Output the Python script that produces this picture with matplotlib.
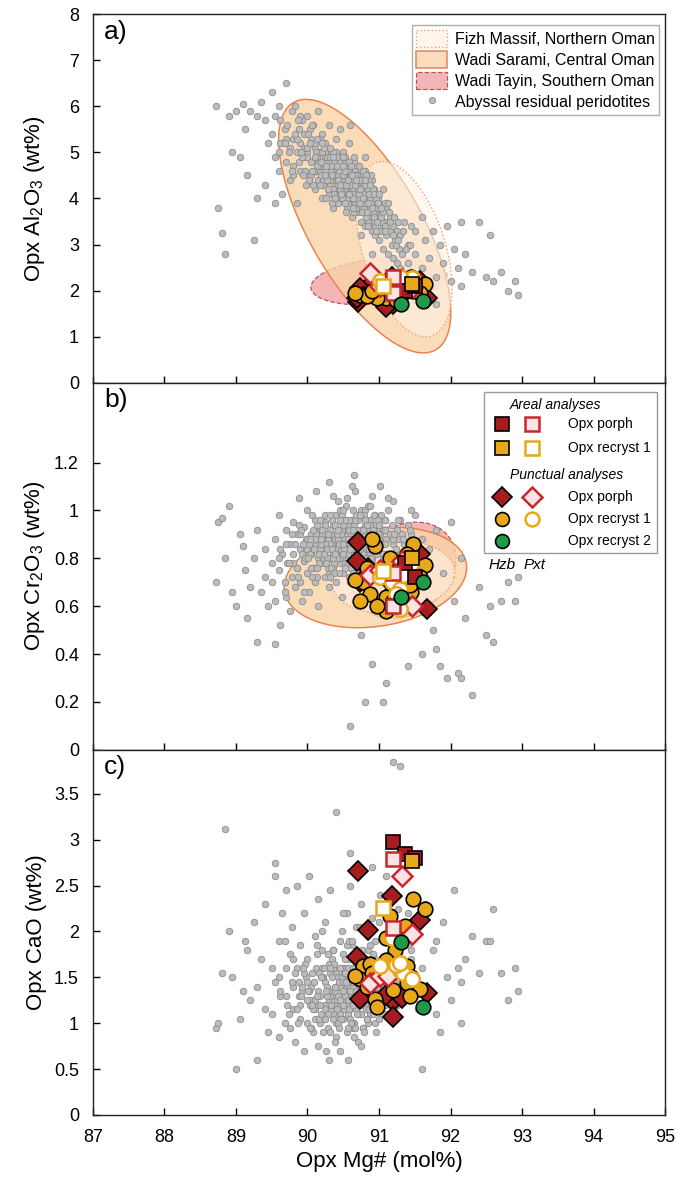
import numpy as np
import matplotlib
matplotlib.use("Agg")
import matplotlib.pyplot as plt
from matplotlib.patches import Patch, Rectangle
from matplotlib.lines import Line2D

plt.rcParams['font.family'] = ['Liberation Sans', 'DejaVu Sans']
plt.rcParams['mathtext.fontset'] = 'custom'
plt.rcParams['mathtext.rm'] = 'Liberation Sans'

# -----------------------------
# Abyssal residual peridotites (Mg#, Al2O3, Cr2O3, CaO)
# -----------------------------
abyssal_mg = [
    88.72, 88.75, 88.8, 88.85, 88.9, 88.95, 89.0, 89.05, 89.1, 89.12,
    89.15, 89.2, 89.25, 89.3, 89.3, 89.35, 89.4, 89.4, 89.45, 89.5,
    89.5, 89.55, 89.55, 89.6, 89.6, 89.62, 89.65, 89.68, 89.7, 89.7,
    89.72, 89.75, 89.75, 89.78, 89.8, 89.8, 89.82, 89.85, 89.85, 89.88,
    89.9, 89.9, 89.92, 89.95, 89.95, 89.98, 90.0, 90.0, 90.02, 90.05,
    90.05, 90.08, 90.1, 90.1, 90.12, 90.15, 90.15, 90.18, 90.2, 90.2,
    90.22, 90.25, 90.25, 90.28, 90.3, 90.3, 90.3, 90.32, 90.35, 90.35,
    90.38, 90.4, 90.4, 90.4, 90.42, 90.45, 90.45, 90.45, 90.48, 90.5,
    90.5, 90.5, 90.52, 90.55, 90.55, 90.55, 90.58, 90.6, 90.6, 90.6,
    90.62, 90.62, 90.65, 90.65, 90.65, 90.68, 90.7, 90.7, 90.7, 90.72,
    90.72, 90.75, 90.75, 90.75, 90.78, 90.8, 90.8, 90.8, 90.82, 90.85,
    90.85, 90.88, 90.9, 90.9, 90.9, 90.92, 90.95, 90.95, 90.98, 91.0,
    91.0, 91.02, 91.05, 91.05, 91.08, 91.1, 91.1, 91.12, 91.15, 91.15,
    91.18, 91.2, 91.2, 91.22, 91.25, 91.25, 91.28, 91.3, 91.3, 91.32,
    91.35, 91.4, 91.4, 91.45, 91.5, 91.5, 91.55, 91.6, 91.6, 91.65,
    91.7, 91.75, 91.8, 91.85, 91.9, 91.95, 92.0, 92.05, 92.1, 92.15,
    92.2, 92.3, 92.4, 92.5, 92.55, 92.6, 92.7, 92.8, 92.9, 92.95,
    89.6, 89.7, 89.8, 89.9, 90.0, 90.1, 90.2, 90.3, 90.4, 90.5,
    90.55, 90.6, 90.65, 90.7, 90.75, 90.8, 90.85, 90.9, 90.95, 91.0,
    90.05, 90.15, 90.25, 90.35, 90.45, 90.55, 90.65, 90.75, 90.85, 90.95,
    90.12, 90.22, 90.32, 90.42, 90.52, 90.62, 90.72, 90.82, 90.92, 91.02,
    89.95, 90.08, 90.18, 90.28, 90.38, 90.48, 90.58, 90.68, 90.78, 90.88,
    90.02, 90.14, 90.26, 90.36, 90.46, 90.56, 90.66, 90.76, 90.86, 90.96,
    89.88, 90.04, 90.16, 90.24, 90.34, 90.44, 90.54, 90.64, 90.74, 90.84,
    90.6, 90.8, 91.05, 91.1, 91.4, 91.8, 92.15, 90.75, 90.9, 89.55,
    90.42, 90.48, 90.56, 90.63, 90.67, 90.71, 90.77, 90.83, 90.87, 90.93,
    90.44, 90.51, 90.57, 90.61, 90.69, 90.74, 90.79, 90.86, 90.91, 90.97,
    90.33, 90.39, 90.46, 90.53, 90.59, 90.66, 90.73, 90.79, 90.84, 90.89,
    90.27, 90.31, 90.37, 90.43, 90.49, 90.57, 90.63, 90.69, 90.76, 90.81,
    90.76, 90.81, 90.87, 90.93, 90.99, 91.04, 91.09, 91.14, 91.19, 91.24,
    90.1, 90.16, 90.21, 90.27, 90.33, 90.39, 90.44, 90.51, 90.58, 90.64,
    89.86, 89.93, 89.99, 90.06, 90.13, 90.19, 90.26, 90.34, 90.41, 90.47,
    90.53, 90.59, 90.64, 90.71, 90.77, 90.83, 90.89, 90.96, 91.03, 91.08,
    90.35, 90.41, 90.5, 90.58, 90.66, 90.74, 90.82, 90.9, 90.98, 91.06,
    89.62, 89.74, 89.83, 89.91, 89.97, 90.03, 90.09, 90.17, 90.23, 90.29,
    90.31, 90.37, 90.43, 90.49, 90.54, 90.61, 90.67, 90.73, 90.8, 90.86,
    90.91, 90.97, 91.03, 91.09, 91.16, 91.21, 91.27, 91.33, 91.38, 91.44,
    89.68, 89.79, 89.87, 89.94, 90.01, 90.07, 90.13, 90.19, 90.24, 90.31,
    90.39, 90.46, 90.52, 90.57, 90.63, 90.68, 90.72, 90.78, 90.84, 90.93,
    90.2, 90.36, 90.5, 90.62, 90.74, 90.88, 91.0, 91.12, 91.26, 91.45,
]
abyssal_al = [
    6.0, 3.8, 3.25, 2.8, 5.8, 5.0, 5.9, 4.9, 6.05, 5.5,
    4.5, 5.9, 3.1, 5.8, 4.0, 6.1, 4.3, 5.7, 5.2, 6.3,
    5.4, 4.9, 5.8, 4.6, 6.0, 5.2, 4.1, 5.5, 6.5, 4.8,
    5.6, 5.1, 4.4, 5.9, 5.3, 4.7, 6.0, 5.0, 3.9, 5.5,
    5.2, 4.6, 5.7, 4.9, 5.4, 4.3, 5.8, 5.0, 4.5, 5.3,
    4.8, 5.6, 4.2, 5.1, 4.6, 5.9, 4.4, 5.0, 4.7, 5.4,
    4.3, 5.2, 4.9, 4.5, 5.6, 4.1, 4.8, 5.0, 4.4, 3.8,
    4.7, 5.3, 4.2, 4.6, 3.9, 4.9, 4.4, 5.5, 4.0, 4.6,
    4.1, 5.0, 4.4, 3.8, 4.6, 4.2, 5.2, 3.9, 4.5, 4.0,
    4.6, 3.6, 4.3, 4.8, 3.9, 4.1, 3.7, 4.4, 4.0, 4.7,
    3.8, 4.2, 3.5, 4.5, 3.9, 4.0, 3.4, 4.6, 3.7, 4.1,
    3.6, 4.3, 3.3, 3.9, 4.4, 3.5, 3.8, 3.2, 4.0, 3.6,
    3.1, 3.7, 3.4, 2.9, 3.5, 3.2, 3.8, 2.8, 3.3, 3.6,
    3.0, 2.7, 3.4, 3.1, 2.6, 3.3, 2.9, 2.5, 3.2, 2.8,
    3.5, 2.6, 3.0, 2.4, 3.3, 2.8, 2.2, 3.6, 2.5, 3.1,
    2.7, 3.3, 2.3, 3.0, 2.6, 3.4, 2.2, 2.9, 2.5, 2.1,
    2.8, 2.4, 3.5, 2.3, 3.2, 2.2, 2.4, 2.0, 2.2, 1.9,
    5.0, 5.3, 4.5, 5.8, 4.9, 5.2, 4.0, 4.6, 5.0, 4.3,
    4.7, 4.2, 4.9, 4.3, 3.8, 4.2, 3.9, 4.1, 3.4, 3.9,
    4.5, 4.8, 4.6, 4.2, 4.7, 4.0, 3.7, 4.4, 3.5, 3.7,
    5.0, 4.4, 4.3, 4.4, 4.8, 4.2, 4.0, 3.6, 3.7, 3.3,
    5.1, 4.3, 5.3, 4.9, 4.5, 4.3, 4.4, 3.8, 4.3, 3.8,
    4.4, 4.9, 4.0, 5.0, 4.1, 4.5, 3.9, 4.0, 4.5, 3.3,
    4.8, 5.5, 4.6, 5.0, 3.9, 4.2, 3.7, 4.5, 4.1, 3.4,
    5.6, 4.9, 4.2, 2.3, 2.0, 1.7, 3.5, 3.2, 2.8, 3.9,
    4.3, 4.0, 4.5, 4.2, 4.6, 3.9, 4.3, 4.0, 3.8, 4.2,
    4.8, 4.4, 4.1, 4.7, 4.0, 4.5, 4.1, 4.4, 4.0, 3.9,
    4.6, 4.5, 4.2, 4.9, 4.4, 4.6, 4.2, 3.8, 4.2, 4.5,
    4.9, 4.4, 4.8, 4.5, 4.3, 4.6, 4.1, 4.5, 4.4, 4.3,
    3.7, 3.9, 4.0, 3.6, 3.8, 3.5, 3.4, 3.7, 3.2, 3.0,
    4.9, 4.7, 5.0, 4.4, 4.7, 4.0, 4.6, 4.5, 4.8, 4.4,
    5.3, 4.9, 5.1, 5.6, 4.7, 4.5, 4.7, 4.5, 4.9, 4.1,
    3.9, 4.3, 4.0, 4.2, 4.6, 3.7, 3.9, 4.0, 3.6, 3.9,
    4.2, 4.7, 4.5, 4.1, 4.5, 4.4, 4.5, 3.8, 3.9, 3.7,
    5.7, 5.0, 5.4, 5.0, 4.6, 5.2, 4.6, 4.3, 5.1, 4.2,
    5.1, 4.1, 4.4, 4.9, 4.3, 4.7, 4.3, 3.9, 4.4, 4.1,
    4.2, 3.5, 3.8, 3.3, 3.5, 3.6, 3.1, 3.3, 2.9, 3.0,
    5.2, 4.6, 5.7, 4.5, 5.4, 4.6, 5.3, 4.8, 4.5, 4.9,
    4.0, 4.3, 4.6, 4.4, 3.8, 4.4, 4.1, 4.0, 3.9, 4.1,
    5.2, 4.9, 4.7, 4.5, 4.2, 4.3, 4.1, 3.9, 3.5, 3.4,
]
abyssal_cr = [
    0.7, 0.95, 0.97, 0.8, 1.02, 0.66, 0.6, 0.9, 0.85, 0.75,
    0.55, 0.68, 0.8, 0.92, 0.45, 0.66, 0.72, 0.84, 0.6, 0.78,
    0.7, 0.88, 0.62, 0.98, 0.75, 0.52, 0.82, 0.7, 0.92, 0.64,
    0.78, 0.86, 0.58, 0.72, 0.95, 0.82, 0.68, 0.9, 0.76, 1.05,
    0.84, 0.7, 0.62, 0.93, 0.79, 0.88, 0.74, 1.0, 0.66, 0.82,
    0.9, 0.76, 0.85, 0.7, 1.08, 0.8, 0.6, 0.92, 0.78, 0.86,
    0.82, 0.95, 0.72, 0.88, 0.8, 1.12, 0.68, 0.9, 0.84, 0.76,
    0.98, 0.8, 0.86, 0.7, 0.92, 0.78, 1.0, 0.84, 0.64, 0.88,
    0.82, 0.74, 0.9, 1.05, 0.86, 0.78, 0.94, 0.8, 0.7, 0.88,
    0.84, 0.96, 0.76, 0.9, 1.15, 0.82, 0.88, 0.72, 0.98, 0.86,
    0.8, 0.92, 0.84, 1.0, 0.78, 0.86, 0.94, 0.74, 0.9, 0.82,
    0.88, 0.96, 0.8, 1.06, 0.84, 0.9, 0.76, 0.98, 0.86, 0.92,
    0.84, 1.1, 0.92, 0.8, 0.96, 0.88, 0.82, 1.0, 0.9, 0.78,
    0.94, 0.86, 1.04, 0.8, 0.92, 0.7, 0.88, 0.96, 0.82, 0.9,
    0.86, 0.94, 0.6, 0.9, 0.82, 0.98, 0.72, 0.88, 0.4, 0.78,
    0.84, 0.5, 0.92, 0.35, 0.74, 0.3, 0.95, 0.62, 0.32, 0.8,
    0.55, 0.23, 0.68, 0.48, 0.6, 0.45, 0.62, 0.7, 0.62, 0.72,
    0.8, 0.86, 0.78, 0.9, 0.84, 0.96, 0.88, 0.74, 0.82, 0.94,
    0.92, 0.86, 0.8, 0.96, 0.9, 1.0, 0.84, 0.78, 0.94, 0.88,
    0.76, 0.88, 0.98, 0.82, 0.9, 0.86, 0.94, 0.8, 1.02, 0.84,
    0.9, 0.8, 0.86, 1.04, 0.78, 0.92, 0.84, 0.88, 0.72, 0.9,
    0.66, 0.92, 0.84, 0.76, 0.88, 0.98, 0.72, 0.86, 0.82, 0.96,
    0.86, 0.72, 0.9, 0.94, 0.84, 0.8, 1.08, 0.76, 0.88, 0.82,
    0.94, 0.82, 0.78, 0.86, 0.96, 0.74, 0.84, 0.9, 0.7, 0.86,
    0.1, 0.2, 0.2, 0.28, 0.35, 0.42, 0.3, 0.48, 0.36, 0.44,
    0.86, 0.92, 0.78, 0.84, 0.96, 0.88, 0.8, 0.9, 0.86, 0.98,
    0.8, 0.88, 0.94, 0.76, 0.82, 0.92, 0.98, 0.8, 0.88, 0.74,
    0.9, 0.84, 0.8, 0.96, 0.86, 0.78, 0.9, 0.84, 0.92, 0.8,
    0.84, 0.92, 0.78, 0.88, 0.94, 0.82, 0.86, 0.92, 0.78, 0.96,
    0.82, 0.88, 0.94, 0.84, 0.9, 0.86, 0.92, 0.8, 0.88, 0.84,
    0.88, 0.82, 0.9, 0.8, 0.76, 0.94, 0.86, 0.84, 0.96, 0.74,
    0.76, 0.82, 0.88, 0.72, 0.94, 0.86, 0.78, 0.84, 0.8, 0.9,
    0.96, 0.84, 1.0, 0.86, 0.82, 0.94, 0.9, 0.86, 0.78, 0.96,
    0.8, 0.9, 0.86, 0.92, 0.88, 0.84, 0.8, 0.9, 0.96, 0.82,
    0.84, 0.78, 0.86, 0.92, 0.8, 0.88, 0.84, 0.96, 0.82, 0.9,
    0.98, 0.74, 0.92, 0.82, 1.02, 0.88, 0.8, 0.86, 0.9, 0.84,
    0.92, 0.84, 0.98, 0.86, 0.82, 0.9, 0.8, 0.88, 0.84, 0.92,
    0.66, 0.9, 0.72, 0.86, 0.8, 0.98, 0.76, 0.88, 0.94, 0.72,
    0.82, 0.96, 0.76, 0.88, 0.92, 0.98, 0.8, 0.92, 0.76, 0.86,
    0.92, 1.06, 1.0, 1.1, 0.98, 1.02, 0.94, 1.05, 0.96, 1.0,
]
abyssal_ca = [
    0.95, 1.0, 1.55, 3.12, 2.0, 1.5, 0.5, 1.05, 1.35, 1.9,
    1.8, 1.25, 2.1, 1.4, 0.6, 1.7, 1.15, 2.3, 0.9, 1.6,
    1.1, 2.6, 1.45, 0.85, 1.9, 1.3, 2.2, 1.0, 1.6, 2.45,
    1.2, 1.75, 0.95, 2.05, 1.4, 1.15, 0.8, 2.5, 1.6, 1.3,
    1.05, 1.85, 1.35, 0.7, 2.2, 1.5, 1.0, 1.7, 2.6, 1.25,
    1.4, 0.9, 1.95, 1.15, 1.6, 2.35, 0.75, 1.3, 1.8, 1.05,
    1.5, 1.2, 2.1, 0.95, 1.65, 1.35, 0.6, 2.45, 1.1, 1.8,
    1.3, 0.85, 1.55, 3.3, 1.2, 1.9, 1.45, 0.7, 2.0, 1.35,
    1.05, 1.6, 1.25, 2.2, 0.9, 1.4, 1.7, 1.15, 2.5, 1.5,
    1.3, 1.85, 1.0, 1.6, 1.2, 2.05, 1.45, 0.8, 1.75, 1.1,
    1.55, 1.25, 2.3, 1.4, 0.95, 1.7, 1.2, 1.5, 2.0, 1.35,
    1.8, 1.1, 1.45, 2.15, 1.3, 1.6, 1.0, 1.9, 1.4, 1.25,
    1.55, 2.4, 1.2, 1.7, 1.35, 1.9, 1.1, 1.5, 2.1, 1.3,
    1.6, 3.85, 1.4, 1.75, 1.2, 1.95, 1.45, 3.8, 1.65, 1.3,
    1.5, 1.85, 1.25, 1.7, 2.0, 1.4, 1.15, 0.5, 1.6, 2.3,
    1.35, 1.8, 1.1, 0.9, 2.1, 1.5, 1.25, 2.45, 1.6, 1.45,
    1.7, 1.95, 1.55, 1.9, 1.9, 2.25, 1.55, 1.25, 1.6, 1.35,
    1.5, 1.3, 1.7, 1.2, 1.45, 1.05, 1.6, 1.25, 1.0, 1.75,
    1.2, 1.4, 1.55, 1.3, 1.1, 1.25, 1.45, 1.15, 1.35, 1.05,
    0.95, 1.35, 1.45, 1.6, 1.1, 1.85, 0.85, 1.6, 1.0, 1.7,
    1.2, 0.9, 1.3, 1.5, 1.35, 1.0, 1.65, 1.4, 1.75, 1.45,
    1.55, 1.15, 1.0, 1.75, 0.8, 1.25, 1.9, 1.15, 0.95, 1.55,
    1.35, 1.85, 0.7, 1.05, 1.4, 0.6, 1.35, 1.8, 1.25, 0.9,
    1.45, 1.2, 1.55, 1.15, 1.7, 1.05, 1.6, 0.95, 1.3, 1.2,
    2.85, 2.0, 2.3, 2.6, 2.2, 1.9, 1.0, 0.75, 2.7, 2.75,
    1.25, 1.5, 1.1, 1.4, 0.95, 1.3, 1.55, 1.05, 1.35, 1.6,
    1.45, 1.15, 1.6, 1.35, 1.7, 1.2, 0.9, 1.5, 1.1, 1.4,
    1.15, 1.4, 1.6, 1.3, 1.05, 1.5, 1.2, 1.45, 1.65, 1.3,
    1.3, 1.55, 1.2, 1.0, 1.45, 1.25, 1.6, 1.1, 1.4, 1.7,
    1.5, 1.25, 1.15, 1.45, 1.3, 1.6, 1.2, 1.75, 1.4, 1.55,
    1.25, 1.05, 1.5, 1.4, 1.2, 1.35, 0.95, 1.55, 1.15, 1.4,
    1.15, 1.4, 1.25, 1.55, 1.3, 1.1, 1.35, 1.5, 1.25, 1.05,
    1.7, 1.35, 1.2, 1.6, 1.3, 1.05, 1.2, 1.55, 1.35, 1.45,
    1.8, 1.15, 1.35, 1.5, 1.25, 1.4, 1.15, 1.3, 1.5, 1.1,
    1.35, 1.1, 1.55, 1.3, 1.65, 0.95, 1.45, 1.2, 1.6, 1.1,
    0.9, 1.65, 1.3, 1.2, 1.45, 1.0, 1.25, 1.5, 1.35, 1.15,
    1.6, 1.2, 1.45, 1.3, 1.5, 1.15, 1.4, 1.6, 1.25, 1.45,
    1.9, 1.45, 1.0, 1.6, 1.35, 1.2, 1.75, 1.5, 1.05, 1.6,
    1.4, 1.25, 1.55, 0.95, 1.45, 1.35, 1.2, 1.25, 1.4, 1.2,
    2.0, 1.8, 2.2, 1.9, 2.05, 1.85, 2.1, 1.95, 2.25, 1.8,
]

# -----------------------------
# Opx analyses of this study
# -----------------------------
# areal, porphyroclasts, harzburgite (filled) / pyroxenite (open)
areal_porph_hzb_mg = [91.2, 91.36, 91.5]
areal_porph_hzb_al = [2.2, 2.0, 2.1]
areal_porph_hzb_cr = [0.6, 0.78, 0.72]
areal_porph_hzb_ca = [2.97, 2.84, 2.8]

areal_porph_pxt_mg = [91.2, 91.2]
areal_porph_pxt_al = [2.3, 1.95]
areal_porph_pxt_cr = [0.74, 0.6]
areal_porph_pxt_ca = [2.79, 2.04]

# areal, recrystallised 1
areal_rec1_hzb_mg = [91.46]
areal_rec1_hzb_al = [2.15]
areal_rec1_hzb_cr = [0.8]
areal_rec1_hzb_ca = [2.77]

areal_rec1_pxt_mg = [91.06]
areal_rec1_pxt_al = [2.11]
areal_rec1_pxt_cr = [0.745]
areal_rec1_pxt_ca = [2.26]

# punctual, porphyroclasts
punct_porph_hzb_mg = [90.71, 91.18, 90.85, 90.69, 91.57, 91.2, 91.32, 91.67, 91.2, 91.1, 90.73]
punct_porph_hzb_al = [1.75, 2.29, 2.07, 1.85, 2.22, 1.72, 1.9, 1.85, 2.0, 1.64, 2.05]
punct_porph_hzb_cr = [0.87, 0.72, 0.76, 0.79, 0.82, 0.66, 0.78, 0.59, 0.69, 0.72, 0.7]
punct_porph_hzb_ca = [2.66, 2.39, 2.02, 1.72, 2.13, 1.24, 1.28, 1.33, 1.07, 1.31, 1.26]

punct_porph_pxt_mg = [91.32, 91.46, 90.87, 91.01, 91.13]
punct_porph_pxt_al = [2.25, 2.05, 2.39, 2.1, 2.2]
punct_porph_pxt_cr = [0.79, 0.6, 0.73, 0.75, 0.72]
punct_porph_pxt_ca = [2.6, 1.97, 1.44, 1.51, 1.51]

# punctual, recrystallised 1
punct_rec1_hzb_mg = [91.48, 91.64, 91.15, 91.36, 91.1, 91.22, 90.78, 90.87, 91.1, 91.24, 91.39,
                     90.73, 91.45, 91.57, 90.94, 90.97, 91.2, 91.39, 90.83, 90.66, 90.9, 91.43]
punct_rec1_hzb_al = [2.0, 2.15, 1.95, 2.22, 1.85, 2.05, 1.93, 1.96, 2.1, 1.8, 2.18,
                     1.9, 2.3, 1.95, 1.96, 1.85, 2.0, 2.12, 1.88, 1.96, 2.0, 2.18]
punct_rec1_hzb_cr = [0.86, 0.77, 0.8, 0.7, 0.64, 0.68, 0.7, 0.65, 0.58, 0.74, 0.76,
                     0.62, 0.66, 0.72, 0.85, 0.6, 0.62, 0.82, 0.76, 0.71, 0.88, 0.69]
punct_rec1_hzb_ca = [2.35, 2.24, 2.17, 2.06, 1.93, 1.8, 1.62, 1.65, 1.69, 1.64, 1.62,
                     1.48, 1.5, 1.37, 1.26, 1.18, 1.36, 1.44, 1.4, 1.52, 1.55, 1.3]

punct_rec1_pxt_mg = [91.01, 91.18, 91.29, 91.41, 91.34, 91.24, 91.46, 91.3]
punct_rec1_pxt_al = [2.2, 2.1, 2.04, 2.22, 2.15, 1.95, 2.28, 2.3]
punct_rec1_pxt_cr = [0.72, 0.7, 0.67, 0.75, 0.73, 0.65, 0.78, 0.59]
punct_rec1_pxt_ca = [1.62, 1.93, 1.58, 1.5, 1.55, 1.63, 1.48, 1.66]

# punctual, recrystallised 2
punct_rec2_mg = [91.31, 91.62]
punct_rec2_al = [1.7, 1.78]
punct_rec2_cr = [0.64, 0.7]
punct_rec2_ca = [1.88, 1.18]

# -----------------------------
# Oman opx fields (centre, two conjugate half-axes)
# -----------------------------
fizh_al = [(91.35, 2.9), (-0.3, 1.9), (0.6, 0.0)]
sarami_al = [(90.8, 3.4), (-0.82, 2.75), (0.88, 0.0)]
tayin_al = [(91.0, 2.2), (0.95, 0.1), (0.05, 0.5)]

fizh_cr = [(91.2, 0.72), (0.85, 0.0), (0.12, 0.15)]
sarami_cr = [(90.95, 0.72), (1.25, 0.0), (0.25, 0.21)]
tayin_cr = [(91.35, 0.75), (0.72, 0.02), (0.1, 0.2)]

RED = '#a71d1f'
RED_OPEN = '#c8282d'
PINK_FILL = '#fde3e5'
ORANGE = '#e7a819'
GREEN = '#1f9a4b'


def field_outline(params):
    c, u, v = params
    t = np.linspace(0, 2 * np.pi, 300)
    x = c[0] + u[0] * np.cos(t) + v[0] * np.sin(t)
    y = c[1] + u[1] * np.cos(t) + v[1] * np.sin(t)
    return x, y


def draw_fields(ax, tayin, sarami, fizh):
    x, y = field_outline(tayin)
    ax.fill(x, y, facecolor='#f5b4b8', edgecolor='#b9574f', linestyle='--', linewidth=0.9, zorder=1)
    x, y = field_outline(sarami)
    ax.fill(x, y, facecolor=(0.98, 0.83, 0.66, 0.8), edgecolor='#e8844f', linewidth=1.1, zorder=1.1)
    x, y = field_outline(fizh)
    ax.fill(x, y, facecolor=(1.0, 0.95, 0.9, 0.6), edgecolor='#eea066', linestyle=':', linewidth=1.0, zorder=1.2)


def draw_samples(ax, col):
    groups = [
        (punct_porph_hzb_mg, col['punct_porph_hzb'], 'D', RED, 'black'),
        (punct_rec1_hzb_mg, col['punct_rec1_hzb'], 'o', ORANGE, 'black'),
        (punct_porph_pxt_mg, col['punct_porph_pxt'], 'D', PINK_FILL, RED_OPEN),
        (punct_rec1_pxt_mg, col['punct_rec1_pxt'], 'o', 'white', ORANGE),
        (areal_porph_hzb_mg, col['areal_porph_hzb'], 's', RED, 'black'),
        (areal_porph_pxt_mg, col['areal_porph_pxt'], 's', PINK_FILL, RED_OPEN),
        (areal_rec1_hzb_mg, col['areal_rec1_hzb'], 's', ORANGE, 'black'),
        (areal_rec1_pxt_mg, col['areal_rec1_pxt'], 's', 'white', ORANGE),
        (punct_rec2_mg, col['punct_rec2'], 'o', GREEN, 'black'),
    ]
    for xs, ys, m, fc, ec in groups:
        ax.plot(xs, ys, linestyle='none', marker=m, markersize=10.5,
                markerfacecolor=fc, markeredgecolor=ec, markeredgewidth=1.8 if ec != 'black' else 1.2,
                zorder=3)


fig = plt.figure(figsize=(6.78, 11.78), dpi=100)
ax_a = fig.add_axes([0.137, 0.675, 0.844, 0.313])
ax_b = fig.add_axes([0.137, 0.3635, 0.844, 0.3115])
ax_c = fig.add_axes([0.137, 0.0535, 0.844, 0.31])

# panel a
draw_fields(ax_a, tayin_al, sarami_al, fizh_al)
ax_a.scatter(abyssal_mg, abyssal_al, s=22, facecolor='#bcbcbc', edgecolor='#8c8c8c', linewidth=0.6, zorder=2)
draw_samples(ax_a, {
    'punct_porph_hzb': punct_porph_hzb_al, 'punct_rec1_hzb': punct_rec1_hzb_al,
    'punct_porph_pxt': punct_porph_pxt_al, 'punct_rec1_pxt': punct_rec1_pxt_al,
    'areal_porph_hzb': areal_porph_hzb_al, 'areal_porph_pxt': areal_porph_pxt_al,
    'areal_rec1_hzb': areal_rec1_hzb_al, 'areal_rec1_pxt': areal_rec1_pxt_al,
    'punct_rec2': punct_rec2_al})
ax_a.set_ylim(0, 8)
ax_a.set_yticks(range(0, 9))
ax_a.set_ylabel('Opx Al$\\mathregular{_2}$O$\\mathregular{_3}$ (wt%)', fontsize=16)

# panel b
draw_fields(ax_b, tayin_cr, sarami_cr, fizh_cr)
ax_b.scatter(abyssal_mg, abyssal_cr, s=22, facecolor='#bcbcbc', edgecolor='#8c8c8c', linewidth=0.6, zorder=2)
draw_samples(ax_b, {
    'punct_porph_hzb': punct_porph_hzb_cr, 'punct_rec1_hzb': punct_rec1_hzb_cr,
    'punct_porph_pxt': punct_porph_pxt_cr, 'punct_rec1_pxt': punct_rec1_pxt_cr,
    'areal_porph_hzb': areal_porph_hzb_cr, 'areal_porph_pxt': areal_porph_pxt_cr,
    'areal_rec1_hzb': areal_rec1_hzb_cr, 'areal_rec1_pxt': areal_rec1_pxt_cr,
    'punct_rec2': punct_rec2_cr})
ax_b.set_ylim(0, 1.533)
ax_b.set_yticks([0, 0.2, 0.4, 0.6, 0.8, 1.0, 1.2])
ax_b.set_yticklabels(['0', '0.2', '0.4', '0.6', '0.8', '1', '1.2'])
ax_b.set_ylabel('Opx Cr$\\mathregular{_2}$O$\\mathregular{_3}$ (wt%)', fontsize=16)

# panel c
ax_c.scatter(abyssal_mg, abyssal_ca, s=22, facecolor='#bcbcbc', edgecolor='#8c8c8c', linewidth=0.6, zorder=2)
draw_samples(ax_c, {
    'punct_porph_hzb': punct_porph_hzb_ca, 'punct_rec1_hzb': punct_rec1_hzb_ca,
    'punct_porph_pxt': punct_porph_pxt_ca, 'punct_rec1_pxt': punct_rec1_pxt_ca,
    'areal_porph_hzb': areal_porph_hzb_ca, 'areal_porph_pxt': areal_porph_pxt_ca,
    'areal_rec1_hzb': areal_rec1_hzb_ca, 'areal_rec1_pxt': areal_rec1_pxt_ca,
    'punct_rec2': punct_rec2_ca})
ax_c.set_ylim(0, 3.98)
ax_c.set_yticks([0, 0.5, 1, 1.5, 2, 2.5, 3, 3.5])
ax_c.set_yticklabels(['0', '0.5', '1', '1.5', '2', '2.5', '3', '3.5'])
ax_c.set_ylabel('Opx CaO (wt%)', fontsize=16)
ax_c.set_xlabel('Opx Mg# (mol%)', fontsize=16, labelpad=4)

for ax, letter in zip([ax_a, ax_b, ax_c], ['a)', 'b)', 'c)']):
    ax.set_xlim(87, 95)
    ax.set_xticks(range(87, 96))
    ax.tick_params(direction='in', length=5, width=1, labelsize=13, pad=10)
    for sp in ax.spines.values():
        sp.set_linewidth(1.0)
        sp.set_color('#222222')
    ax.text(0.02, 0.985, letter, transform=ax.transAxes, fontsize=19, va='top', ha='left')
    ax.yaxis.set_label_coords(-0.08, 0.5)

ax_a.tick_params(labelbottom=False)
ax_b.tick_params(labelbottom=False)

# legend for Oman fields
field_handles = [
    Patch(facecolor='#fef6ee', edgecolor='#eea066', linestyle=':', linewidth=1.0, label='Fizh Massif, Northern Oman'),
    Patch(facecolor='#fadcbc', edgecolor='#e8844f', linewidth=1.1, label='Wadi Sarami, Central Oman'),
    Patch(facecolor='#f5b4b8', edgecolor='#b9574f', linestyle='--', linewidth=0.9, label='Wadi Tayin, Southern Oman'),
    Line2D([], [], linestyle='none', marker='o', markersize=4.5, markerfacecolor='#bcbcbc',
           markeredgecolor='#8c8c8c', markeredgewidth=0.6, label='Abyssal residual peridotites'),
]
leg = ax_a.legend(handles=field_handles, loc='upper right', bbox_to_anchor=(0.99, 0.97),
                  borderaxespad=0, fontsize=11.5, frameon=True, fancybox=False,
                  edgecolor='#9a9a9a', handlelength=1.9, handleheight=1.3,
                  handletextpad=0.5, labelspacing=0.22, borderpad=0.3)
leg.get_frame().set_linewidth(1.0)

# legend for this study (drawn in axes fraction of panel b)
box_x0, box_x1 = 0.684, 0.986
box_y0, box_y1 = 0.537, 0.975
ax_b.add_patch(Rectangle((box_x0, box_y0), box_x1 - box_x0, box_y1 - box_y0, transform=ax_b.transAxes,
                         facecolor='white', edgecolor='#9a9a9a', linewidth=1.0, zorder=5))
x_fill, x_open, x_text, x_head = 0.715, 0.767, 0.83, 0.729
rows = [
    ('head', 0.940, 'Areal analyses', None),
    ('pair', 0.889, 'Opx porph', ('s', RED, 'black', PINK_FILL, RED_OPEN)),
    ('pair', 0.823, 'Opx recryst 1', ('s', ORANGE, 'black', 'white', ORANGE)),
    ('head', 0.749, 'Punctual analyses', None),
    ('pair', 0.689, 'Opx porph', ('D', RED, 'black', PINK_FILL, RED_OPEN)),
    ('pair', 0.629, 'Opx recryst 1', ('o', ORANGE, 'black', 'white', ORANGE)),
    ('one', 0.569, 'Opx recryst 2', ('o', GREEN, 'black', None, None)),
]
for kind, yy, label, sty in rows:
    if kind == 'head':
        ax_b.text(x_head, yy, label, transform=ax_b.transAxes, fontsize=10, style='italic',
                  va='center', ha='left', zorder=6)
        continue
    m, fc, ec, fc2, ec2 = sty
    ax_b.plot([x_fill], [yy], transform=ax_b.transAxes, marker=m, markersize=10,
              markerfacecolor=fc, markeredgecolor=ec, markeredgewidth=1.2, linestyle='none',
              zorder=6, clip_on=False)
    if fc2 is not None:
        ax_b.plot([x_open], [yy], transform=ax_b.transAxes, marker=m, markersize=10,
                  markerfacecolor=fc2, markeredgecolor=ec2, markeredgewidth=1.8, linestyle='none',
                  zorder=6, clip_on=False)
    ax_b.text(x_text, yy, label, transform=ax_b.transAxes, fontsize=10, va='center', ha='left', zorder=6)
ax_b.text(x_fill, 0.504, 'Hzb', transform=ax_b.transAxes, fontsize=11, style='italic', va='center', ha='center')
ax_b.text(x_open + 0.005, 0.504, 'Pxt', transform=ax_b.transAxes, fontsize=11, style='italic', va='center', ha='center')

fig.savefig('out.png', dpi=100)
